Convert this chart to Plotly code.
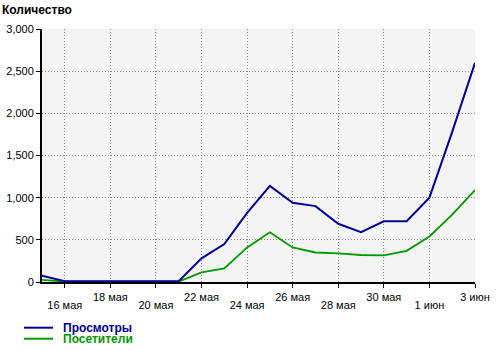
import plotly.graph_objects as go

dates = ["2011-05-15", "2011-05-16", "2011-05-17", "2011-05-18", "2011-05-19",
         "2011-05-20", "2011-05-21", "2011-05-22", "2011-05-23", "2011-05-24",
         "2011-05-25", "2011-05-26", "2011-05-27", "2011-05-28", "2011-05-29",
         "2011-05-30", "2011-05-31", "2011-06-01", "2011-06-02", "2011-06-03"]
views = [75, 10, 10, 10, 10, 10, 10, 280, 450, 820, 1140, 940, 900, 690, 590,
         720, 720, 1000, 1780, 2600]
visitors = [25, 5, 5, 5, 5, 5, 5, 115, 160, 410, 590, 410, 350, 340, 320,
            315, 370, 540, 800, 1090]

tick_dates = ["2011-05-16", "2011-05-18", "2011-05-20", "2011-05-22", "2011-05-24",
              "2011-05-26", "2011-05-28", "2011-05-30", "2011-06-01", "2011-06-03"]
tick_labels = ["16 мая", "18 мая", "20 мая", "22 мая", "24 мая",
               "26 мая", "28 мая", "30 мая", "1 июн", "3 июн"]
y_ticks = [0, 500, 1000, 1500, 2000, 2500, 3000]

series_names = ["Просмотры", "Посетители"]
series_colors = ["#000099", "#009900"]

upper_text = [t if i % 2 == 1 else "" for i, t in enumerate(tick_labels)]
lower_vals = [d for i, d in enumerate(tick_dates) if i % 2 == 0]
lower_text = [t for i, t in enumerate(tick_labels) if i % 2 == 0]

font = "Liberation Sans, Arial, sans-serif"
xr = ["2011-05-15", "2011-06-03"]
grid_dash = "1px,2px"

fig = go.Figure()
fig.add_trace(go.Scatter(x=dates, y=visitors, mode="lines",
                         line=dict(color=series_colors[1], width=1.8),
                         showlegend=False, hoverinfo="skip"))
fig.add_trace(go.Scatter(x=dates, y=views, mode="lines",
                         line=dict(color=series_colors[0], width=2),
                         showlegend=False, hoverinfo="skip"))

fig.update_layout(
    width=500, height=351,
    margin=dict(l=42, r=25, t=29, b=69),
    paper_bgcolor="white", plot_bgcolor="#f4f4f4",
    font=dict(family=font, size=11, color="black"),
    xaxis=dict(type="date", range=xr, tickvals=tick_dates, ticktext=upper_text,
               showgrid=True, gridcolor="#888888", griddash=grid_dash, gridwidth=1,
               showline=True, linecolor="black", linewidth=2,
               ticks="outside", ticklen=4, tickcolor="black", tickwidth=1,
               zeroline=False, automargin=False,
               tickfont=dict(size=11, color="black")),
    xaxis2=dict(type="date", range=xr, overlaying="x", side="bottom",
                tickvals=lower_vals, ticktext=lower_text, showgrid=False,
                showline=False, ticks="", zeroline=False, automargin=False,
                ticklabelstandoff=15, tickfont=dict(size=11, color="black")),
    yaxis=dict(range=[0, 3000], tickvals=y_ticks, tickformat=",",
               showgrid=True, gridcolor="#888888", griddash=grid_dash, gridwidth=1,
               showline=True, linecolor="black", linewidth=2,
               ticks="outside", ticklen=4, tickcolor="black", tickwidth=1,
               zeroline=False, automargin=False,
               tickfont=dict(size=11, color="black")),
)
# invisible trace to activate xaxis2
fig.add_trace(go.Scatter(x=[dates[0]], y=[0], xaxis="x2", mode="markers",
                         marker=dict(opacity=0), showlegend=False, hoverinfo="skip"))

fig.add_annotation(text="<b>Количество</b>", xref="paper", yref="paper",
                   x=-42 / 433, y=1 + 19 / 252, xanchor="left", yanchor="middle",
                   showarrow=False, font=dict(family=font, size=12, color="black"))

# manual legend
leg_y = [327.5, 338.5]
for name, col, ypx in zip(series_names, series_colors, leg_y):
    yp = (351 - 69 - ypx) / 252
    fig.add_shape(type="line", xref="paper", yref="paper",
                  x0=(24 - 42) / 433, x1=(53 - 42) / 433, y0=yp, y1=yp,
                  line=dict(color=col, width=2))
    fig.add_annotation(text=f"<b>{name}</b>", xref="paper", yref="paper",
                       x=(61 - 42) / 433, y=yp, xanchor="left", yanchor="middle",
                       showarrow=False, font=dict(family=font, size=12, color=col))

fig.write_html("out.html")
